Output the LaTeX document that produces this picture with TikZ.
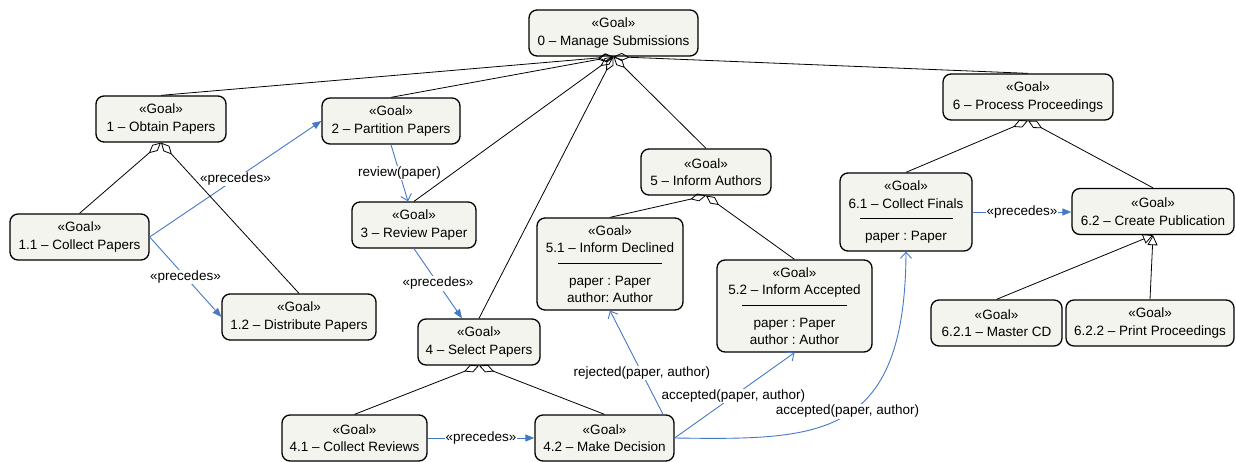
\documentclass[tikz,border=0pt]{standalone}
\usepackage{fontspec}
\setmainfont{Liberation Sans}
\usetikzlibrary{arrows.meta}
\frenchspacing

\definecolor{goalfill}{RGB}{242,244,237}
\definecolor{msgblue}{RGB}{70,120,200}

\tikzset{
  goal/.style={draw=black, line width=1.3pt, rounded corners=8pt, fill=goalfill,
    align=center, inner sep=0pt, minimum height=46pt,
    font=\fontsize{13.5}{17.5}\selectfont},
  agg/.style={draw=black, line width=0.8pt, {Diamond[open,length=16pt,width=8pt]}-},
  gen/.style={draw=black, line width=0.8pt, -{Triangle[open,length=10pt,width=10pt]}},
  prec/.style={draw=msgblue, line width=0.9pt, -{Triangle[length=9pt,width=7pt]}},
  msg/.style={draw=msgblue, line width=0.9pt, -{Straight Barb[length=6pt,width=11pt]}},
  lbl/.style={fill=white, inner sep=1pt, font=\fontsize{13.5}{16}\selectfont}
}

\begin{document}
\begin{tikzpicture}[x=1pt,y=-1pt]
\useasboundingbox (0,0) rectangle (1236,462);

% goals
\node[goal, minimum width=169pt] (n0) at (613.5,33) {«Goal»\\0 – Manage Submissions};
\node[goal, minimum width=130pt] (n1) at (161,119) {«Goal»\\1 – Obtain Papers};
\node[goal, minimum width=138pt] (n2) at (391,121) {«Goal»\\2 – Partition Papers};
\node[goal, minimum width=139pt] (n11) at (79.5,237) {«Goal»\\1.1 – Collect Papers};
\node[goal, minimum width=154pt] (n12) at (299,317) {«Goal»\\1.2 – Distribute Papers};
\node[goal, minimum width=124pt] (n3) at (414,225) {«Goal»\\3 – Review Paper};
\node[goal, minimum width=122pt] (n4) at (479,342) {«Goal»\\4 – Select Papers};
\node[goal, minimum width=145pt] (n41) at (354.5,438) {«Goal»\\4.1 – Collect Reviews};
\node[goal, minimum width=139pt] (n42) at (604.5,438) {«Goal»\\4.2 – Make Decision};
\node[goal, minimum width=130pt] (n5) at (706,172) {«Goal»\\5 – Inform Authors};
\node[goal, minimum width=146pt, minimum height=92pt] (n51) at (610,264)
  {«Goal»\\5.1 – Inform Declined\\[-6.6pt]\rule{104pt}{0.8pt}\\[4pt]paper : Paper\\author: Author};
\node[goal, minimum width=155pt, minimum height=92pt] (n52) at (794.5,306)
  {«Goal»\\5.2 – Inform Accepted\\[-6.6pt]\rule{105pt}{0.8pt}\\[4pt]paper : Paper\\author : Author};
\node[goal, minimum width=170pt] (n6) at (1028,97) {«Goal»\\6 – Process Proceedings};
\node[goal, minimum width=132pt, minimum height=78pt] (n61) at (906,212)
  {«Goal»\\6.1 – Collect Finals\\[-6.6pt]\rule{93pt}{0.8pt}\\[4pt]paper : Paper};
\node[goal, minimum width=162pt] (n62) at (1153,211.5) {«Goal»\\6.2 – Create Publication};
\node[goal, minimum width=131pt] (n621) at (996.5,323) {«Goal»\\6.2.1 – Master CD};
\node[goal, minimum width=168pt] (n622) at (1150,323) {«Goal»\\6.2.2 – Print Proceedings};

% ordering and message flows
\draw[prec] (n11.east) -- node[lbl, pos=0.5] {«precedes»} (n2.west);
\draw[prec] (n11.east) -- node[lbl, pos=0.5] {«precedes»} (n12.west);
\draw[msg] (n2.south) -- node[lbl, pos=0.5] {review(paper)} ([xshift=-6pt]n3.north);
\draw[prec] (n3.south) -- node[lbl, pos=0.5] {«precedes»} ([xshift=-17pt]n4.north);
\draw[prec] (n41.east) -- node[lbl, pos=0.5] {«precedes»} (n42.west);
\draw[msg] ([xshift=58.5pt]n42.north) -- node[lbl, pos=0.4] {rejected(paper, author)} (n51.south);
\draw[msg] (n42.east) -- node[lbl, pos=0.49] {accepted(paper, author)} (n52.south);
\draw[msg] (n42.east) .. controls (820,440) and (905,440) .. node[lbl, pos=0.5, xshift=3pt, yshift=5pt] {accepted(paper, author)} (n61.south);
\draw[prec] (n61.east) -- node[lbl, pos=0.5] {«precedes»} (n61.east -| n62.west);

% goal refinement
\draw[agg] (n0.south) -- (n1.north);
\draw[agg] (n0.south) -- (n2.north);
\draw[agg] (n0.south) -- (n3.north);
\draw[agg] (n0.south) -- (n4.north);
\draw[agg] (n0.south) -- (n5.north);
\draw[agg] (n0.south) -- (n6.north);
\draw[agg] (n1.south) -- (n11.north);
\draw[agg] (n1.south) -- (n12.north);
\draw[agg] (n4.south) -- (n41.north);
\draw[agg] (n4.south) -- (n42.north);
\draw[agg] (n5.south) -- (n51.north);
\draw[agg] (n5.south) -- (n52.north);
\draw[agg] (n6.south) -- (n61.north);
\draw[agg] (n6.south) -- (n62.north);
\draw[gen] (n621.north) -- (n62.south);
\draw[gen] (n622.north) -- (n62.south);
\end{tikzpicture}
\end{document}
